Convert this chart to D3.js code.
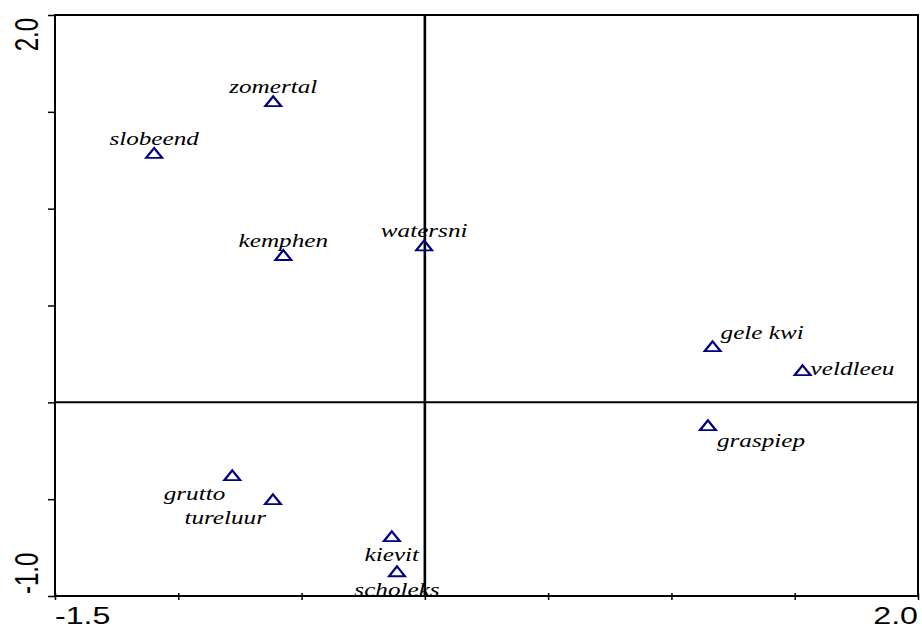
<!DOCTYPE html>
<html>
  <head>
    <meta charset="utf-8">
    <script type="text/javascript" src="https://cdnjs.cloudflare.com/ajax/libs/d3/7.8.5/d3.min.js"></script>
    <style>
      body { margin: 0; background: #fff; }
    </style>
  </head>
  <body>
    <script type="text/javascript">

var species = ["zomertal", "slobeend", "kemphen", "watersni", "gele kwi", "veldleeu",
               "graspiep", "grutto", "tureluur", "kievit", "scholeks"];
var axis1 = [-0.615, -1.098, -0.574, -0.003, 1.167, 1.532, 1.148, -0.781, -0.616, -0.134, -0.113];
var axis2 = [1.546, 1.279, 0.752, 0.802, 0.281, 0.157, -0.127, -0.385, -0.509, -0.700, -0.881];
var xTicks = [-1.5, -1.0, -0.5, 0, 0.5, 1.0, 1.5, 2.0];
var yTicks = [-1.0, -0.5, 0, 0.5, 1.0, 1.5, 2.0];
var xEndLabels = ["-1.5", "2.0"];
var yEndLabels = ["-1.0", "2.0"];

// where each label sits around its triangle
var place = {
  "zomertal": "top", "slobeend": "top", "kemphen": "top", "watersni": "top",
  "gele kwi": "topright", "veldleeu": "right", "graspiep": "bottomright",
  "grutto": "bottomleft", "tureluur": "bottomleft",
  "kievit": "bottom", "scholeks": "bottom"
};
var offsets = {
  top:         { dx: 0,  dy: -10, anchor: "middle" },
  topright:    { dx: 8,  dy: -9,  anchor: "start" },
  right:       { dx: 8,  dy: 3,   anchor: "start" },
  bottomright: { dx: 9,  dy: 20,  anchor: "start" },
  bottomleft:  { dx: -7, dy: 23,  anchor: "end" },
  bottom:      { dx: 0,  dy: 23,  anchor: "middle" }
};

var w = 922;
var h = 629;
var sx = 1.4; // the original chart is stretched sideways

var plotL = 55, plotT = 15, plotR = 918, plotB = 596;

var x = d3.scaleLinear().domain([-1.5, 2.0]).range([plotL, plotR]);
var y = d3.scaleLinear().domain([-1.0, 2.0]).range([plotB, plotT]);

var svg =
  d3.select("body")
    .append("svg")
    .attr("width", w)
    .attr("height", h);

// ticks
var xAxis = svg.append("g")
    .attr("transform", "translate(0," + plotB + ")")
    .call(d3.axisBottom(x).tickValues(xTicks).tickSize(4).tickFormat(""));
xAxis.selectAll(".tick line").attr("y1", -3).attr("stroke-width", 1.5);
xAxis.select(".domain").remove();

var yAxis = svg.append("g")
    .attr("transform", "translate(" + plotL + ",0)")
    .call(d3.axisLeft(y).tickValues(yTicks).tickSize(7).tickFormat(""));
yAxis.selectAll(".tick line").attr("stroke-width", 1.5);
yAxis.select(".domain").remove();

// frame
svg.append("rect")
    .attr("x", plotL)
    .attr("y", plotT)
    .attr("width", plotR - plotL)
    .attr("height", plotB - plotT)
    .style("fill", "none")
    .style("stroke", "#000")
    .style("stroke-width", 2);

// zero lines
svg.append("line")
    .attr("x1", x(0)).attr("x2", x(0))
    .attr("y1", plotT).attr("y2", plotB)
    .style("stroke", "#000")
    .style("stroke-width", 2.6);

svg.append("line")
    .attr("x1", plotL).attr("x2", plotR)
    .attr("y1", y(0)).attr("y2", y(0))
    .style("stroke", "#000")
    .style("stroke-width", 2);

// end labels
svg.selectAll("text.xlab")
    .data(xEndLabels)
    .enter()
    .append("text")
    .attr("class", "xlab")
    .attr("transform", function(d) { return "translate(" + x(+d) + ",624) scale(" + sx + ",1)"; })
    .attr("text-anchor", function(d, i) { return i == 0 ? "start" : "end"; })
    .style("font-family", "Liberation Sans, Arial, sans-serif")
    .style("font-size", "23px")
    .text(function(d) { return d; });

svg.selectAll("text.ylab")
    .data(yEndLabels)
    .enter()
    .append("text")
    .attr("class", "ylab")
    .attr("transform", function(d, i) {
      var py = i == 0 ? y(+d) - 2 : y(+d) + 3;
      return "translate(38," + py + ") scale(" + sx + ",1) rotate(-90)";
    })
    .attr("text-anchor", function(d, i) { return i == 0 ? "start" : "end"; })
    .style("font-family", "Liberation Sans, Arial, sans-serif")
    .style("font-size", "24px")
    .text(function(d) { return d; });

// points
var points = species.map(function(s, i) { return { name: s, a1: axis1[i], a2: axis2[i] }; });

var triangle = d3.symbol().type(d3.symbolTriangle).size(56);

svg.selectAll("path.pt")
    .data(points)
    .enter()
    .append("path")
    .attr("class", "pt")
    .attr("d", triangle)
    .attr("transform", function(d) { return "translate(" + x(d.a1) + "," + y(d.a2) + ") scale(" + sx + ",1)"; })
    .style("fill", "none")
    .style("stroke", "#000080")
    .style("stroke-width", 1.8);

svg.selectAll("text.name")
    .data(points)
    .enter()
    .append("text")
    .attr("class", "name")
    .attr("transform", function(d) {
      var o = offsets[place[d.name]];
      return "translate(" + (x(d.a1) + o.dx) + "," + (y(d.a2) + o.dy) + ") scale(" + sx + ",1)";
    })
    .attr("text-anchor", function(d) { return offsets[place[d.name]].anchor; })
    .style("font-family", "Liberation Serif, Times New Roman, serif")
    .style("font-style", "italic")
    .style("font-size", "18px")
    .style("fill", "#000")
    .text(function(d) { return d.name; });

    </script>
  </body>
</html>
